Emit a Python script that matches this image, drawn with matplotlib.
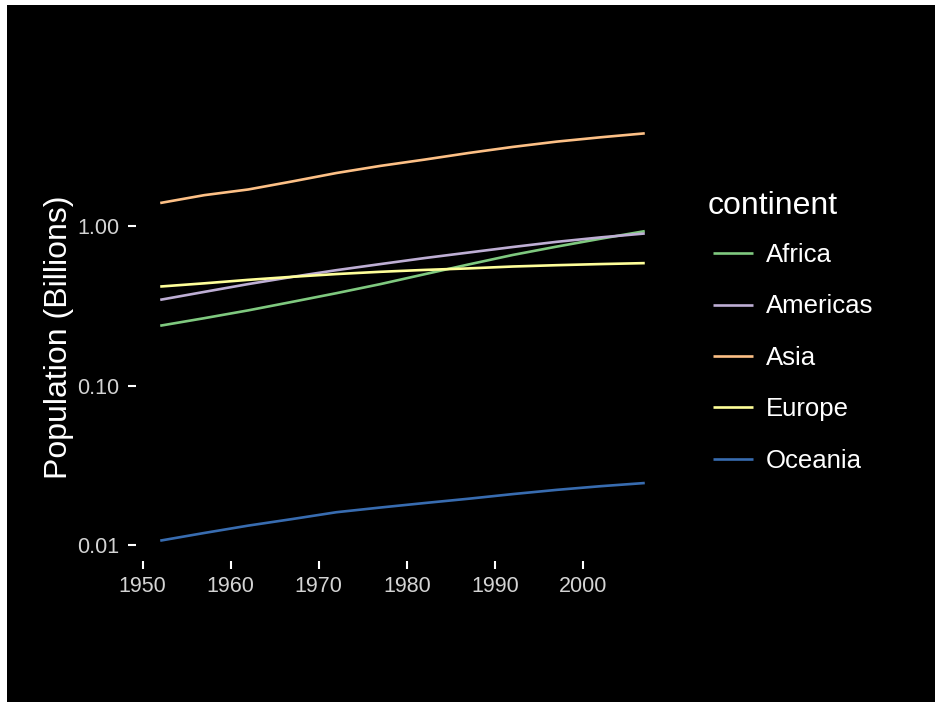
import matplotlib
matplotlib.use("Agg")
import matplotlib.pyplot as plt
from matplotlib.patches import Rectangle

plt.rcParams['font.family'] = ['Liberation Sans', 'DejaVu Sans']

# Total population per continent (billions), gapminder years
years = [1952, 1957, 1962, 1967, 1972, 1977, 1982, 1987, 1992, 1997, 2002, 2007]
continents = ["Africa", "Americas", "Asia", "Europe", "Oceania"]
africa = [0.2376, 0.2648, 0.2965, 0.3353, 0.3799, 0.4331, 0.4993, 0.5748, 0.6591, 0.7438, 0.8337, 0.9295]
americas = [0.3452, 0.3870, 0.4333, 0.4807, 0.5294, 0.5781, 0.6303, 0.6828, 0.7393, 0.7969, 0.8498, 0.8989]
asia = [1.3954, 1.5628, 1.6964, 1.9057, 2.1510, 2.3845, 2.6101, 2.8712, 3.1333, 3.3833, 3.6018, 3.8120]
europe = [0.4181, 0.4379, 0.4604, 0.4812, 0.5006, 0.5172, 0.5313, 0.5431, 0.5581, 0.5689, 0.5782, 0.5861]
oceania = [0.01069, 0.01194, 0.01328, 0.01460, 0.01611, 0.01724, 0.01839, 0.01957, 0.02092, 0.02224, 0.02345, 0.02455]
series = [africa, americas, asia, europe, oceania]
colors = ["#7fc97f", "#beaed4", "#fdc086", "#ffff99", "#386cb0"]

y_ticks = [0.01, 0.1, 1.0]
y_tick_labels = ["0.01", "0.10", "1.00"]
x_ticks = [1950, 1960, 1970, 1980, 1990, 2000]

W, H = 935, 702
fig = plt.figure(figsize=(W / 100, H / 100), dpi=100)
fig.patch.set_facecolor("white")
# black plot background, slightly offset inside the white canvas
fig.patches.append(Rectangle((7 / W, 0), 1, 1 - 5 / H, transform=fig.transFigure,
                             facecolor="black", edgecolor="none", zorder=-10))

ax = fig.add_axes([136 / W, 1 - 561 / H, (669 - 136) / W, (561 - 113) / H])
ax.set_facecolor("black")

for name, vals, col in zip(continents, series, colors):
    ax.plot(years, vals, color=col, lw=1.9, label=name, solid_capstyle="butt")

ax.set_yscale("log")
ax.set_xlim(1949.25, 2009.75)
ax.set_ylim(10 ** -2.0986, 10 ** 0.7087)
ax.set_yticks(y_ticks)
ax.set_yticklabels(y_tick_labels)
ax.minorticks_off()
ax.set_xticks(x_ticks)

for s in ax.spines.values():
    s.set_visible(False)
ax.tick_params(colors="white", length=6, width=1.5, labelsize=15.5,
               labelcolor="#d4d4d4")
ax.tick_params(axis="x", pad=5)
ax.tick_params(axis="y", pad=6)

ax.set_ylabel("Population (Billions)", color="white", fontsize=23, labelpad=2)

# legend title placed on its own so the keys can sit slightly indented
fig.text(708 / W, 1 - 206 / H, "continent", color="white", fontsize=23,
         ha="left", va="center")
leg = ax.legend(loc="upper left", bbox_to_anchor=(713 / W, 1 - 243 / H),
                bbox_transform=fig.transFigure, frameon=False,
                fontsize=18.5, borderpad=0, borderaxespad=0,
                handlelength=1.55, handletextpad=0.5, labelspacing=1.07)
for t in leg.get_texts():
    t.set_color("white")

fig.savefig("out.png", dpi=100, facecolor=fig.get_facecolor())
